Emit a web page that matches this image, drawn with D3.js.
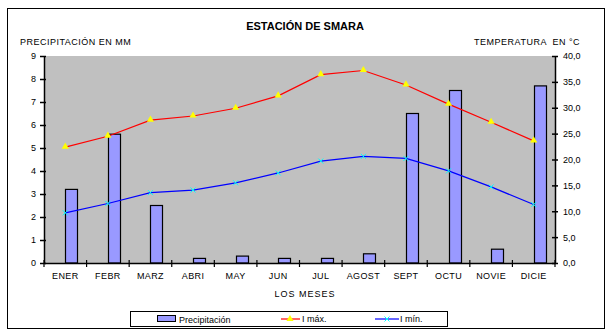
<!DOCTYPE html>
<html>
<head>
<meta charset="utf-8">
<script src="https://cdn.jsdelivr.net/npm/d3@7"></script>
<style>
  body { margin: 0; background: #fff; }
  svg text { font-family: Arial, "Liberation Sans", sans-serif; fill: #000; white-space: pre; }
</style>
</head>
<body>
<div class="chart"></div>
<script>
// Climograma de Smara: precipitación mensual (barras) y temperaturas (líneas)
var meses = ["ENER", "FEBR", "MARZ", "ABRI", "MAY", "JUN", "JUL", "AGOST", "SEPT", "OCTU", "NOVIE", "DICIE"];
var precipitacion = [3.2, 5.6, 2.5, 0.2, 0.3, 0.2, 0.2, 0.4, 6.5, 7.5, 0.6, 7.7];
var tMax = [22.4, 24.5, 27.6, 28.4, 29.9, 32.3, 36.4, 37.2, 34.4, 30.7, 27.2, 23.6];
var tMin = [9.7, 11.5, 13.6, 14.1, 15.5, 17.4, 19.7, 20.6, 20.2, 17.8, 14.7, 11.3];
var ticksMm = [0, 1, 2, 3, 4, 5, 6, 7, 8, 9];
var ticksTemp = [0, 5, 10, 15, 20, 25, 30, 35, 40];

var svgWidth = 610;
var svgHeight = 335;

var plot = { left: 44, right: 555, top: 56, bottom: 263 };

var svg = d3.select(".chart")
  .append("svg")
  .attr("width", svgWidth)
  .attr("height", svgHeight);

// marco exterior
svg.append("rect")
  .attr("x", 7.5).attr("y", 8.5)
  .attr("width", 597).attr("height", 320)
  .attr("fill", "#fff")
  .attr("stroke", "#000");

// scales
var x = d3.scaleBand()
  .domain(meses)
  .range([plot.left, plot.right]);

var yMm = d3.scaleLinear()
  .domain([0, 9])
  .range([plot.bottom, plot.top]);

var yTemp = d3.scaleLinear()
  .domain([0, 40])
  .range([plot.bottom, plot.top]);

var cx = function(m) { return x(m) + x.bandwidth() / 2; };

// plot area background
svg.append("rect")
  .attr("x", plot.left).attr("y", plot.top)
  .attr("width", plot.right - plot.left)
  .attr("height", plot.bottom - plot.top)
  .attr("fill", "#c0c0c0");

// bars (Excel places them starting at the category centre)
var barW = 12;
svg.selectAll("rect.bar")
  .data(meses)
  .enter()
  .append("rect")
  .attr("class", "bar")
  .attr("x", function(m) { return Math.round(cx(m)) + 0.5; })
  .attr("y", function(m, i) { return yMm(precipitacion[i]); })
  .attr("width", barW)
  .attr("height", function(m, i) { return plot.bottom - yMm(precipitacion[i]); })
  .attr("fill", "#9999ff")
  .attr("stroke", "#000")
  .attr("stroke-width", 1.2);

// temperature lines
var lineTemp = d3.line()
  .x(function(d, i) { return cx(meses[i]); })
  .y(function(d) { return yTemp(d); });

svg.append("path")
  .datum(tMax)
  .attr("d", lineTemp)
  .attr("fill", "none")
  .attr("stroke", "#ff0000")
  .attr("stroke-width", 1.2);

svg.append("path")
  .datum(tMin)
  .attr("d", lineTemp)
  .attr("fill", "none")
  .attr("stroke", "#0000ff")
  .attr("stroke-width", 1.2);

// markers
var tri = d3.symbol().type(d3.symbolTriangle).size(22);
svg.selectAll("path.mk-max")
  .data(tMax)
  .enter()
  .append("path")
  .attr("class", "mk-max")
  .attr("d", tri)
  .attr("transform", function(d, i) { return "translate(" + cx(meses[i]) + "," + (yTemp(d) - 0.5) + ")"; })
  .attr("fill", "#ffff00");

var cross = d3.symbol().type(d3.symbolX).size(18);
svg.selectAll("path.mk-min")
  .data(tMin)
  .enter()
  .append("path")
  .attr("class", "mk-min")
  .attr("d", cross)
  .attr("transform", function(d, i) { return "translate(" + cx(meses[i]) + "," + yTemp(d) + ")"; })
  .attr("fill", "none")
  .attr("stroke", "#00ffff")
  .attr("stroke-width", 1);

// axes
var axisFont = "9px";

var leftAxis = svg.append("g")
  .attr("transform", "translate(" + plot.left + ",0)")
  .call(d3.axisLeft(yMm).tickValues(ticksMm).tickSizeInner(4).tickSizeOuter(0).tickPadding(4));

var rightAxis = svg.append("g")
  .attr("transform", "translate(" + plot.right + ",0)")
  .call(d3.axisRight(yTemp).tickValues(ticksTemp).tickSizeInner(3).tickSizeOuter(0).tickPadding(5)
    .tickFormat(function(d) { return d3.format(".1f")(d).replace(".", ","); }));

var bottomAxis = svg.append("g")
  .attr("transform", "translate(0," + plot.bottom + ")")
  .call(d3.axisBottom(x).tickSize(0).tickPadding(10));

[leftAxis, rightAxis, bottomAxis].forEach(function(g) {
  g.selectAll("text").style("font-size", axisFont).attr("fill", "#000");
  g.select(".domain").attr("stroke", "#000").attr("stroke-width", 1.5);
  g.selectAll(".tick line").attr("stroke", "#000").attr("stroke-width", 1.5);
});
bottomAxis.selectAll("text").style("letter-spacing", "0.4px");

// ticks cross the vertical axes a little on the inside
leftAxis.selectAll(".tick line").attr("x1", 2);
rightAxis.selectAll(".tick line").attr("x1", -3);

// category separators on the x axis
svg.selectAll("line.sep")
  .data(d3.range(meses.length + 1))
  .enter()
  .append("line")
  .attr("class", "sep")
  .attr("x1", function(i) { return plot.left + i * x.bandwidth(); })
  .attr("x2", function(i) { return plot.left + i * x.bandwidth(); })
  .attr("y1", plot.bottom - 3)
  .attr("y2", plot.bottom + 4)
  .attr("stroke", "#000")
  .attr("stroke-width", 1.2);

// titles
svg.append("text")
  .attr("x", 305).attr("y", 30)
  .attr("text-anchor", "middle")
  .style("font-size", "11px")
  .style("font-weight", "bold")
  .text("ESTACIÓN DE SMARA");

svg.append("text")
  .attr("x", 20).attr("y", 45)
  .style("font-size", "9px")
  .style("letter-spacing", "0.5px")
  .text("PRECIPITACIÓN EN MM");

svg.append("text")
  .attr("x", 580).attr("y", 45)
  .attr("text-anchor", "end")
  .style("font-size", "9px")
  .style("letter-spacing", "0.5px")
  .text("TEMPERATURA  EN °C");

svg.append("text")
  .attr("x", 305).attr("y", 297)
  .attr("text-anchor", "middle")
  .style("font-size", "9px")
  .style("letter-spacing", "1px")
  .text("LOS MESES");

// legend
var legend = svg.append("g");
legend.append("rect")
  .attr("x", 130.5).attr("y", 311.5)
  .attr("width", 317).attr("height", 15)
  .attr("fill", "#fff")
  .attr("stroke", "#000");

legend.append("rect")
  .attr("x", 157.5).attr("y", 315.5)
  .attr("width", 18).attr("height", 6)
  .attr("fill", "#9999ff")
  .attr("stroke", "#000");
legend.append("text")
  .attr("x", 179).attr("y", 323)
  .style("font-size", "9px")
  .text("Precipitación");

legend.append("line")
  .attr("x1", 281).attr("x2", 300).attr("y1", 319).attr("y2", 319)
  .attr("stroke", "#ff0000").attr("stroke-width", 1.2);
legend.append("path")
  .attr("d", tri)
  .attr("transform", "translate(290,319)")
  .attr("fill", "#ffff00");
legend.append("text")
  .attr("x", 302).attr("y", 322)
  .style("font-size", "9px")
  .text("I máx.");

legend.append("line")
  .attr("x1", 375).attr("x2", 399).attr("y1", 319).attr("y2", 319)
  .attr("stroke", "#0000ff").attr("stroke-width", 1.2);
legend.append("path")
  .attr("d", cross)
  .attr("transform", "translate(387,319)")
  .attr("fill", "none")
  .attr("stroke", "#00ffff");
legend.append("text")
  .attr("x", 400).attr("y", 322)
  .style("font-size", "9px")
  .text("I mín.");
</script>
</body>
</html>
